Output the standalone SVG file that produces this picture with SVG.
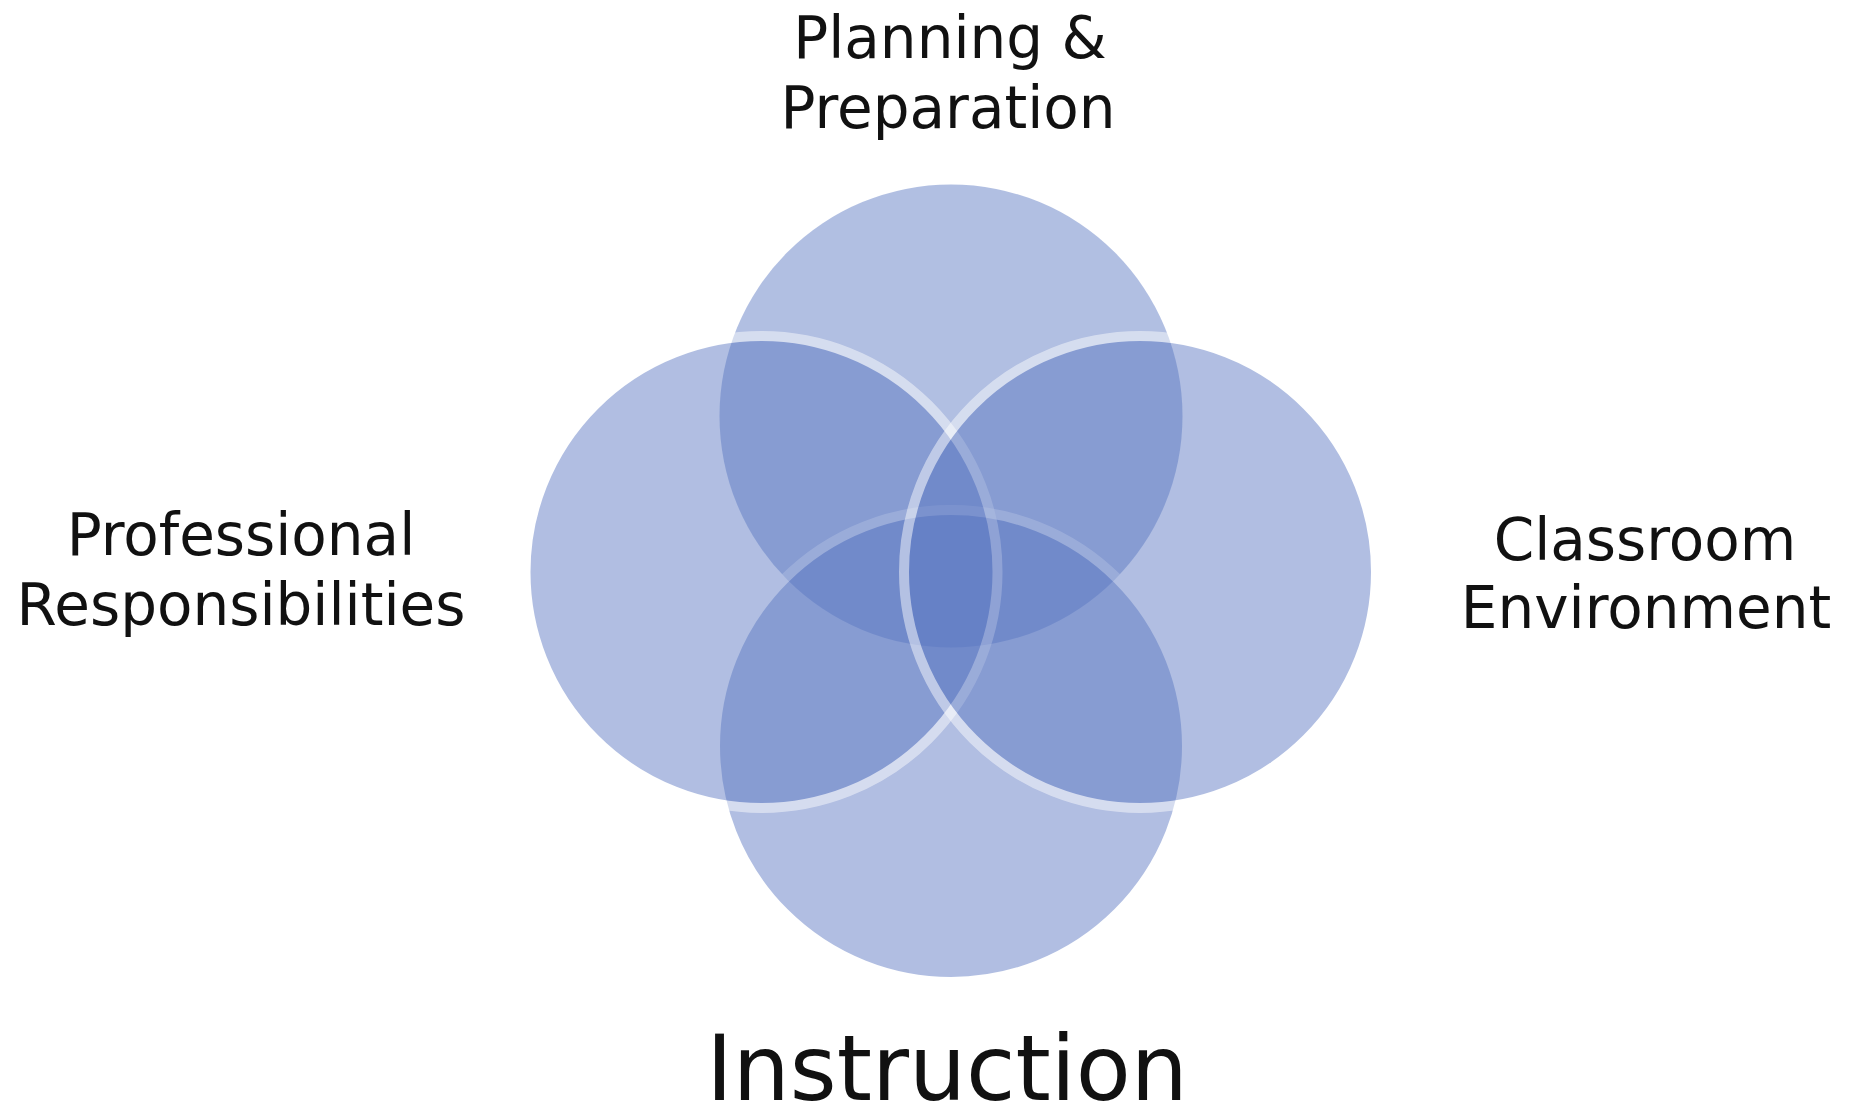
<svg xmlns="http://www.w3.org/2000/svg" width="1858" height="1113" viewBox="0 0 1858 1113">
<style>
.c{fill:#5a77c2;opacity:0.47}
.s{stroke:#ffffff;stroke-width:10}
.t{font-family:"DejaVu Sans",Verdana,sans-serif;font-size:58px;fill:#111;text-anchor:middle}
.big{font-size:90px}
</style>
<rect width="1858" height="1113" fill="#ffffff"/>
<g id="venn">
<circle id="c-top" class="c" cx="951" cy="416" r="231.5"/>
<circle id="c-bottom" class="c s" cx="951" cy="746" r="236"/>
<circle id="c-left" class="c s" cx="761.5" cy="572" r="236"/>
<circle id="c-right" class="c s" cx="1140" cy="572" r="236"/>
</g>
<g id="connectors"></g>
<g id="label-top"><text class="t" x="950" y="58">Planning &amp;</text><text class="t" x="948" y="128">Preparation</text></g>
<g id="label-left"><text class="t" x="241" y="555">Professional</text><text class="t" x="241" y="625">Responsibilities</text></g>
<g id="label-right"><text class="t" x="1645" y="560">Classroom</text><text class="t" x="1646" y="628">Environment</text></g>
<g id="label-bottom"><text class="t big" x="947" y="1100">Instruction</text></g>
</svg>
